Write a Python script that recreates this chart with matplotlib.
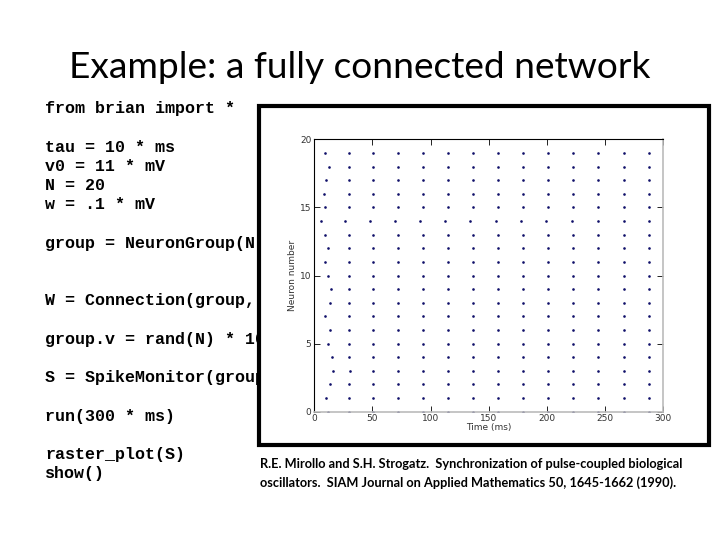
import matplotlib.pyplot as plt
from matplotlib.patches import Rectangle

# Slide text
title = 'Example: a fully connected network'
code_lines = [
    'from brian import *',
    '',
    'tau = 10 * ms',
    'v0 = 11 * mV',
    'N = 20',
    'w = .1 * mV',
    '',
    'group = NeuronGroup(N,',
    '',
    '',
    'W = Connection(group,',
    '',
    'group.v = rand(N) * 10',
    '',
    'S = SpikeMonitor(group',
    '',
    'run(300 * ms)',
    '',
    'raster_plot(S)',
    'show()',
]
caption = ['R.E. Mirollo and S.H. Strogatz.  Synchronization of pulse-coupled biological',
           'oscillators.  SIAM Journal on Applied Mathematics 50, 1645-1662 (1990).']

# Raster data (spike times in ms for neurons 0..19)
n_neurons = 20
first_spike = [12.0, 10.0, 13.8, 16.3, 15.5, 11.7, 13.8, 9.5, 13.8, 14.0,
               12.0, 9.5, 11.7, 9.5, 6.0, 9.2, 8.0, 9.7, 12.6, 9.2]
sync_times = [29.5, 50.5, 72, 93.5, 115, 136, 157.5, 179, 200.5, 222, 244, 266, 288]
neuron14_times = [6.0, 26, 48, 69.5, 91, 112.5, 134, 156, 177.5, 199.5, 221.5, 244, 266, 288]
neuron3_second = 31.0

spike_t = []
spike_i = []
for i in range(n_neurons):
    if i == 14:
        times = neuron14_times
    else:
        times = [first_spike[i]] + sync_times
        if i == 3:
            times = [first_spike[i], neuron3_second] + sync_times[1:]
    spike_t += times
    spike_i += [i] * len(times)

fig = plt.figure(figsize=(7.2, 5.4), dpi=100)
W, H = 720.0, 540.0

fig.text(360 / W, 1 - 68 / H, title, ha='center', va='center',
         fontsize=26.7, family='Lato', color='black')

y = 109
for line in code_lines:
    if line:
        fig.text(45 / W, 1 - y / H, line, ha='left', va='center',
                 fontsize=12, family='Liberation Mono', weight='bold')
    y += 19.2

# picture box covering the code
box = Rectangle((258.5 / W, 1 - 445 / H), (709 - 258.5) / W, (445 - 106) / H,
                transform=fig.transFigure, facecolor='white', edgecolor='black',
                linewidth=3, zorder=5)
fig.add_artist(box)

for k, line in enumerate(caption):
    fig.text(260 / W, 1 - (464 + 19 * k) / H, line, ha='left', va='center',
             fontsize=9.2, family='Lato', weight='bold')

ax = fig.add_axes([314.3 / W, 1 - 411.7 / H, 349 / W, 272.4 / H], zorder=6)
ax.plot(spike_t, spike_i, '.', color='#10106a', markersize=3.8, markeredgewidth=0)
ax.set_xlim(0, 300)
ax.set_ylim(0, 20)
ax.set_xticks(range(0, 301, 50))
ax.set_yticks(range(0, 21, 5))
ax.tick_params(direction='in', top=True, right=True, length=4, width=0.6,
               labelsize=6.5, labelcolor='#333333', pad=2)
ax.set_xlabel('Time (ms)', fontsize=6.5, color='#333333', labelpad=0)
ax.set_ylabel('Neuron number', fontsize=6.5, color='#333333', labelpad=2)
for s in ['top', 'left']:
    ax.spines[s].set_linewidth(0.8)
for s in ['right', 'bottom']:
    ax.spines[s].set_color('#bbbbbb')
    ax.spines[s].set_linewidth(1.2)

fig.savefig('out.png', dpi=100)
